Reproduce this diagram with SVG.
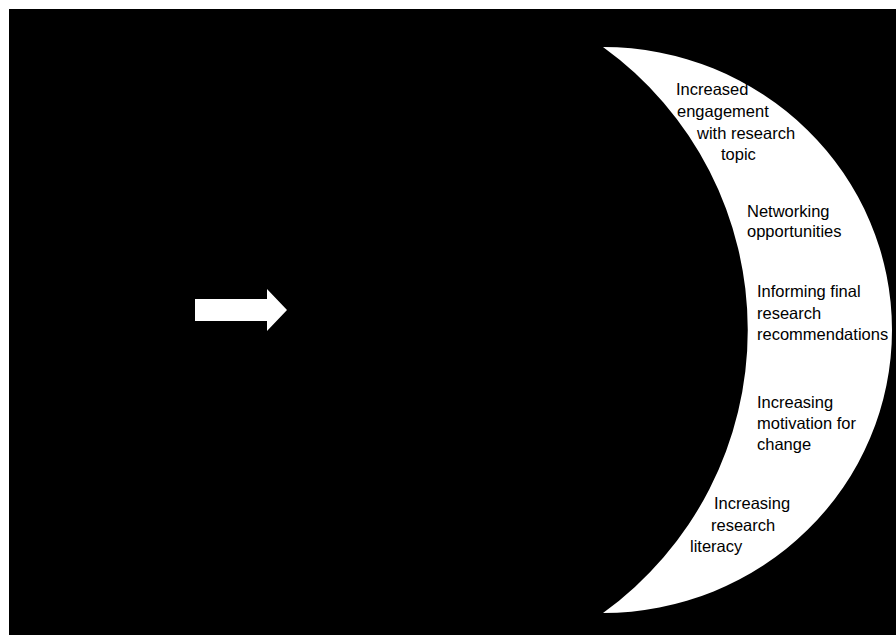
<svg xmlns="http://www.w3.org/2000/svg" width="896" height="635" viewBox="0 0 896 635">
  <style>
    .lbl { font-family: "Liberation Sans", Arial, sans-serif; font-size: 16.5px; fill: #000000; }
    .shape { fill: #ffffff; stroke: none; }
  </style>
  <rect x="0" y="0" width="896" height="635" fill="#ffffff"/>
  <rect x="9" y="9" width="887" height="626" fill="#000000"/>
  <g id="connectors">
    <polygon class="shape" points="195,299 267,299 267,289 287,310 267,331 267,321 195,321"/>
  </g>
  <g id="crescent">
    <path class="shape" d="M603,47 A289,283 0 0 1 603,613 A349,349 0 0 0 603,47 Z"/>
  </g>
  <g id="node-engagement">
    <text class="lbl" x="676" y="95">Increased</text>
    <text class="lbl" x="677" y="117">engagement</text>
    <text class="lbl" x="697" y="139">with research</text>
    <text class="lbl" x="721" y="160">topic</text>
  </g>
  <g id="node-networking">
    <text class="lbl" x="747" y="217">Networking</text>
    <text class="lbl" x="747" y="237">opportunities</text>
  </g>
  <g id="node-informing">
    <text class="lbl" x="757" y="297">Informing final</text>
    <text class="lbl" x="757" y="319">research</text>
    <text class="lbl" x="757" y="340">recommendations</text>
  </g>
  <g id="node-motivation">
    <text class="lbl" x="757" y="408">Increasing</text>
    <text class="lbl" x="757" y="429">motivation for</text>
    <text class="lbl" x="757" y="450">change</text>
  </g>
  <g id="node-literacy">
    <text class="lbl" x="714" y="509">Increasing</text>
    <text class="lbl" x="711" y="531">research</text>
    <text class="lbl" x="690" y="552">literacy</text>
  </g>
</svg>
